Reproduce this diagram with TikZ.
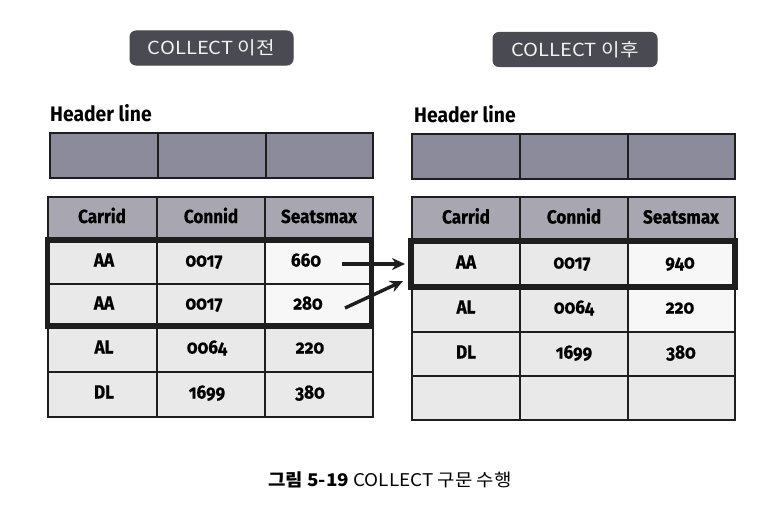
\documentclass[tikz,border=0pt]{standalone}
\usepackage{fontspec}
\setmainfont{Fira Sans}
\newfontfamily\tabfont[Numbers=OldStyle,FakeStretch=0.9,BoldFeatures={FakeBold=0.6}]{Fira Sans}
\newfontfamily\hdfont[FakeStretch=0.92]{Fira Sans}
\newfontfamily\kr[FakeStretch=1.08]{Noto Sans CJK KR}
\newfontfamily\krwide[FakeStretch=1.12]{Noto Sans CJK KR}
\usetikzlibrary{arrows.meta}
\definecolor{labfill}{HTML}{4A4A52}
\definecolor{labtext}{HTML}{F2F2F2}
\definecolor{hlinec}{HTML}{8C8B9B}
\definecolor{headc}{HTML}{A8A7B1}
\definecolor{datac}{HTML}{E9E9E9}
\definecolor{whitec}{HTML}{F7F7F7}
\definecolor{linec}{HTML}{1E1E1E}
\tikzset{
  gridline/.style={draw=linec, line width=1.8pt},
  thickbox/.style={draw=linec, line width=5.5pt},
  tag/.style={draw=linec!80, line width=1pt, fill=labfill, rounded corners=6pt, text=labtext,
    minimum height=34pt, inner sep=0pt, font=\krwide\fontsize{18}{20}\selectfont},
  txt/.style={inner sep=0pt, text height=13pt, text depth=4pt, font=\tabfont\bfseries\fontsize{19}{22}\selectfont},
  hdtxt/.style={inner sep=0pt, anchor=base west, font=\hdfont\bfseries\fontsize{21}{24}\selectfont},
  arr/.style={draw=linec, line width=3.4pt, -{Stealth[length=13pt,width=12pt]}},
}
\begin{document}
\begin{tikzpicture}[x=1pt,y=-1pt]
\useasboundingbox (0,0) rectangle (781,511);
\fill[white] (0,0) rectangle (781,511);

% ---- tags
\node[tag, minimum width=163pt] (tagL) at (211.5,48) {COLLECT 이전};
\node[tag, minimum width=164pt] (tagR) at (575,49.5) {COLLECT 이후};

% ---- header line labels
\node[hdtxt] (hlL) at (50,121) {Header line};
\node[hdtxt] (hlR) at (414,122) {Header line};

% ---- left header line
\fill[hlinec] (50,133) rectangle (373,178);
\draw[gridline] (50,133) rectangle (373,178) (158,133) -- (158,178) (266,133) -- (266,178);
% ---- right header line
\fill[hlinec] (412,134) rectangle (735,179);
\draw[gridline] (412,134) rectangle (735,179) (520,134) -- (520,179) (628,134) -- (628,179);

% ---- left table
\fill[headc] (48,197) rectangle (373,240);
\fill[datac] (48,240) rectangle (373,417);
\fill[whitec] (265,240) rectangle (373,326);
\draw[gridline] (48,197) rectangle (373,417);
\draw[gridline] (157,197) -- (157,417) (265,197) -- (265,417);
\draw[gridline] (48,240) -- (373,240) (48,284) -- (373,284) (48,326) -- (373,326) (48,372) -- (373,372);
\draw[thickbox] (47.5,240) rectangle (371.5,326);

% ---- right table
\fill[headc] (412,197) rectangle (735,241);
\fill[datac] (412,241) rectangle (735,420);
\fill[whitec] (628,241) rectangle (735,332);
\draw[gridline] (412,197) rectangle (735,420);
\draw[gridline] (520,197) -- (520,420) (628,197) -- (628,420);
\draw[gridline] (412,241) -- (735,241) (412,287) -- (735,287) (412,332) -- (735,332) (412,376) -- (735,376);
\draw[thickbox] (411,241) rectangle (735,287);

% ---- left texts
\node[txt] (lh1) at (102,218.5) {Carrid};
\node[txt] (lh2) at (211,218.5) {Connid};
\node[txt] (lh3) at (319,218.5) {Seatsmax};
\node[txt] (l11) at (104,262) {AA};
\node[txt] (l12) at (204,262) {0017};
\node[txt] (l13) at (306,262) {660};
\node[txt] (l21) at (104,305) {AA};
\node[txt] (l22) at (204,305) {0017};
\node[txt] (l23) at (308,305) {280};
\node[txt] (l31) at (104,349) {AL};
\node[txt] (l32) at (207,349) {0064};
\node[txt] (l33) at (310,349) {220};
\node[txt] (l41) at (104,394) {DL};
\node[txt] (l42) at (207,394) {1699};
\node[txt] (l43) at (310,394) {380};

% ---- right texts
\node[txt] (rh1) at (466,219) {Carrid};
\node[txt] (rh2) at (574,219) {Connid};
\node[txt] (rh3) at (681,219) {Seatsmax};
\node[txt] (r11) at (466,264) {AA};
\node[txt] (r12) at (572,264) {0017};
\node[txt] (r13) at (680,264) {940};
\node[txt] (r21) at (466,309) {AL};
\node[txt] (r22) at (574,309) {0064};
\node[txt] (r23) at (680,309) {220};
\node[txt] (r31) at (466,354) {DL};
\node[txt] (r32) at (574,354) {1699};
\node[txt] (r33) at (681,354) {380};

% ---- arrows
\coordinate (a1s) at (342,264);
\coordinate (a1e) at (405,264);
\coordinate (a2s) at (345,308);
\coordinate (a2e) at (403,281);
\draw[arr] (a1s) -- (a1e);
\draw[arr] (a2s) -- (a2e);

% ---- caption
\node[inner sep=0pt, anchor=base, font=\kr\fontsize{17.5}{20}\selectfont] (cap) at (390,486)
  {{\bfseries 그림 5-19} COLLECT 구문 수행};
\end{tikzpicture}
\end{document}
